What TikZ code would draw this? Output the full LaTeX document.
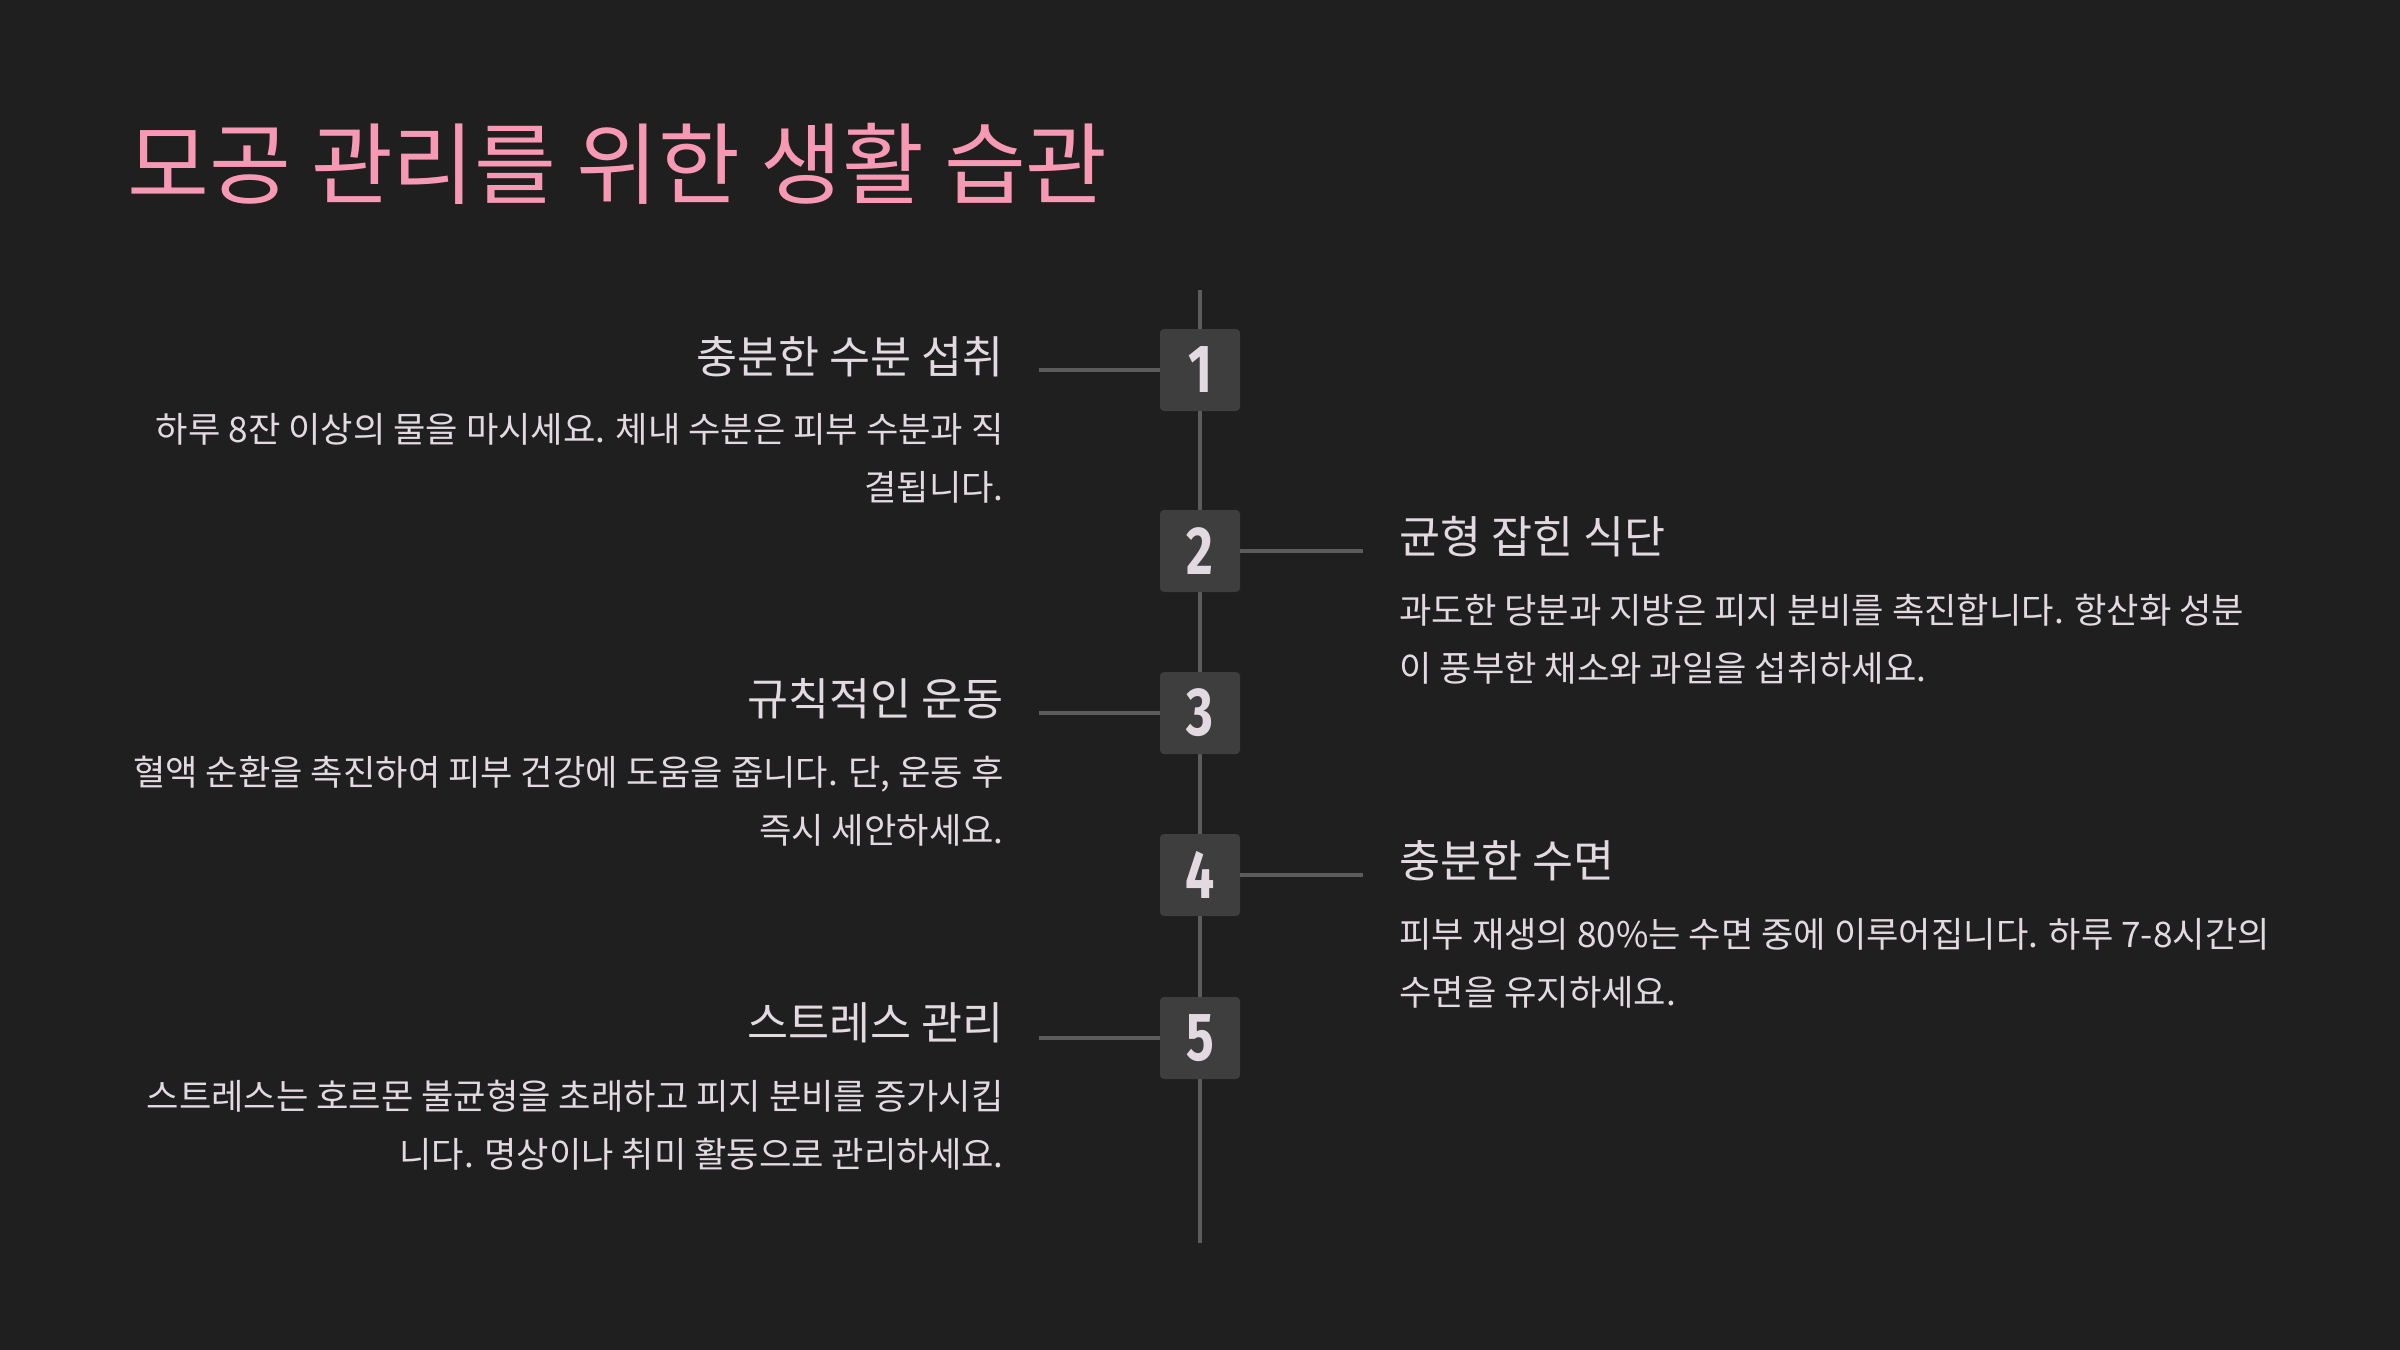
\documentclass[tikz,border=0pt]{standalone}
\usepackage{fontspec}
\setmainfont{Noto Sans CJK KR}
\newfontfamily\numfont[FakeStretch=0.76]{Fira Sans}
\definecolor{pagebg}{HTML}{1F1F1F}
\definecolor{titlepink}{HTML}{F799B5}
\definecolor{textlight}{HTML}{E3DAE1}
\definecolor{spinegray}{HTML}{5C5C5C}
\definecolor{boxgray}{HTML}{3E3E3E}

\begin{document}
\begin{tikzpicture}[
    x=0.5pt, y=-0.5pt,
    spine/.style={draw=spinegray, line width=1.6pt},
    numbox/.style={fill=boxgray, rounded corners=2pt, minimum width=40pt, minimum height=41pt, inner sep=0pt, text=textlight, font=\numfont\bfseries\fontsize{34}{34}\selectfont},
    heading/.style={text=textlight, inner sep=0pt, anchor=base east, font=\fontsize{22.3}{26}\selectfont},
    bodytext/.style={text=textlight, inner sep=0pt, font=\fontsize{17.6}{29}\selectfont}
]

  % 0. Background and frame
  \fill[pagebg] (0,0) rectangle (2400,1350);
  \useasboundingbox (0,0) rectangle (2400,1350);

  % 1. Title
  \node[anchor=base west, inner sep=0pt, text=titlepink, font=\fontsize{44.5}{48}\selectfont] (title) at (127,197) {모공 관리를 위한 생활 습관};

  % 2. Timeline spine (drawn behind the boxes)
  \coordinate (spinetop) at (1200,290);
  \coordinate (spinebot) at (1200,1243);
  \draw[spine] (spinetop) -- (spinebot);

  % 3. Step 1 (left)
  \node[numbox] (step1) at (1200,370) {1};
  \coordinate (tick1) at (1039,370);
  \draw[spine] (tick1) -- (step1);
  \node[heading] (head1) at (1004,373) {충분한 수분 섭취};
  \node[bodytext, anchor=north east, align=right] (body1) at (1004,413)
    {하루 8잔 이상의 물을 마시세요. 체내 수분은 피부 수분과 직\\결됩니다.};

  % 4. Step 2 (right)
  \node[numbox] (step2) at (1200,551) {2};
  \coordinate (tick2) at (1363,551);
  \draw[spine] (step2) -- (tick2);
  \node[heading, anchor=base west] (head2) at (1399,553) {균형 잡힌 식단};
  \node[bodytext, anchor=north west, align=left] (body2) at (1399,594)
    {과도한 당분과 지방은 피지 분비를 촉진합니다. 항산화 성분\\이 풍부한 채소와 과일을 섭취하세요.};

  % 5. Step 3 (left)
  \node[numbox] (step3) at (1200,713) {3};
  \coordinate (tick3) at (1039,713);
  \draw[spine] (tick3) -- (step3);
  \node[heading] (head3) at (1004,715) {규칙적인 운동};
  \node[bodytext, anchor=north east, align=right] (body3) at (1004,756)
    {혈액 순환을 촉진하여 피부 건강에 도움을 줍니다. 단, 운동 후\\즉시 세안하세요.};

  % 6. Step 4 (right)
  \node[numbox] (step4) at (1200,875) {4};
  \coordinate (tick4) at (1363,875);
  \draw[spine] (step4) -- (tick4);
  \node[heading, anchor=base west] (head4) at (1399,877) {충분한 수면};
  \node[bodytext, anchor=north west, align=left] (body4) at (1399,918)
    {피부 재생의 80\%는 수면 중에 이루어집니다. 하루 7-8시간의\\수면을 유지하세요.};

  % 7. Step 5 (left)
  \node[numbox] (step5) at (1200,1038) {5};
  \coordinate (tick5) at (1039,1038);
  \draw[spine] (tick5) -- (step5);
  \node[heading] (head5) at (1004,1039) {스트레스 관리};
  \node[bodytext, anchor=north east, align=right] (body5) at (1004,1080)
    {스트레스는 호르몬 불균형을 초래하고 피지 분비를 증가시킵\\니다. 명상이나 취미 활동으로 관리하세요.};

\end{tikzpicture}
\end{document}
